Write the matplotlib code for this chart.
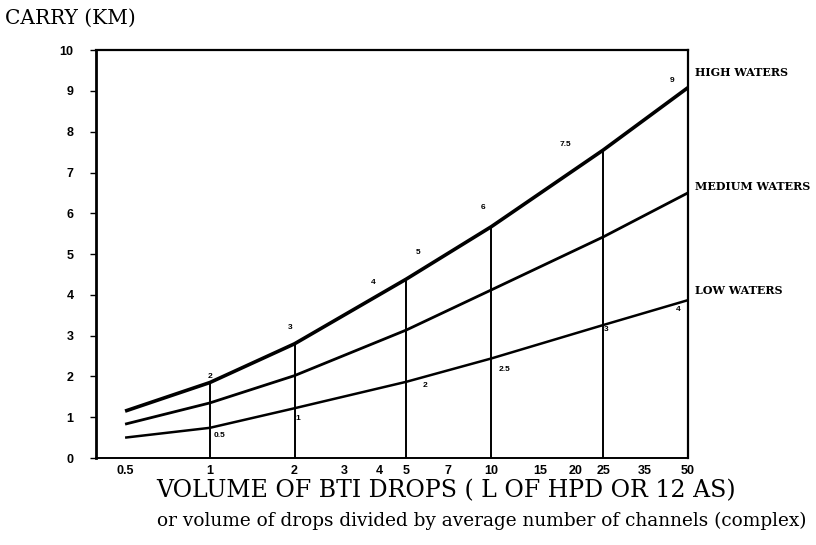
import matplotlib
matplotlib.use("Agg")
import matplotlib.pyplot as plt

# --- DATA ---
VOLUMES = [0.5, 1, 2, 5, 10, 25, 50]
HIGH_WATERS = [1.15, 1.85, 2.8, 4.39, 5.67, 7.55, 9.08]
MEDIUM_WATERS = [0.83, 1.35, 2.02, 3.14, 4.12, 5.42, 6.5]
LOW_WATERS = [0.5, 0.74, 1.22, 1.87, 2.44, 3.26, 3.87]

DROP_LINES = [1, 2, 5, 10, 25]  # vertical guides up to the high-water curve

X_TICKS = [0.5, 1, 2, 3, 4, 5, 7, 10, 15, 20, 25, 35, 50]
X_TICK_LABELS = ["0.5", "1", "2", "3", "4", "5", "7", "10", "15", "20", "25", "35", "50"]
Y_TICKS = list(range(0, 11))

# small figures written along the curves
HIGH_NOTES = [("2", 1.0, 1.99), ("3", 1.93, 3.21), ("4", 3.8, 4.3), ("5", 5.5, 5.05),
              ("6", 9.35, 6.13), ("7.5", 18.3, 7.68), ("9", 43.9, 9.26)]
LOW_NOTES = [("0.5", 1.03, 0.54), ("1", 2.01, 0.98), ("2", 5.72, 1.77),
             ("2.5", 10.6, 2.18), ("3", 25.2, 3.14), ("4", 45.3, 3.65)]

SERIF = "DejaVu Serif"
SANS = "Liberation Sans"

fig = plt.figure(figsize=(8.16, 5.45), dpi=100)
ax = fig.add_axes([0.1176, 0.1596, 0.843 - 0.1176, 0.908 - 0.1596])

ax.plot(VOLUMES, HIGH_WATERS, color="black", lw=2.6, solid_capstyle="butt")
ax.plot(VOLUMES, MEDIUM_WATERS, color="black", lw=2.0, solid_capstyle="butt")
ax.plot(VOLUMES, LOW_WATERS, color="black", lw=1.8, solid_capstyle="butt")

for v in DROP_LINES:
    top = HIGH_WATERS[VOLUMES.index(v)]
    ax.plot([v, v], [0, top], color="black", lw=1.4)

for txt, x, y in HIGH_NOTES:
    ax.text(x, y, txt, fontsize=6, fontweight="bold", family=SANS, ha="center", va="center")
for txt, x, y in LOW_NOTES:
    ax.text(x, y, txt, fontsize=6, fontweight="bold", family=SANS, ha="left", va="center")

ax.set_xscale("log")
ax.set_xlim(0.394, 50)
ax.set_ylim(0, 10)
ax.set_xticks(X_TICKS)
ax.set_xticklabels(X_TICK_LABELS)
ax.minorticks_off()
ax.set_yticks(Y_TICKS)
ax.tick_params(axis="x", length=0, pad=5)
ax.tick_params(axis="y", length=4, width=1, direction="out", pad=12)
for lab in ax.get_xticklabels() + ax.get_yticklabels():
    lab.set_family(SANS)
    lab.set_fontweight("bold")
    lab.set_fontsize(9)

for side in ["left", "top", "right", "bottom"]:
    ax.spines[side].set_color("black")
ax.spines["left"].set_linewidth(2.0)
ax.spines["top"].set_linewidth(1.6)
ax.spines["right"].set_linewidth(1.6)
ax.spines["bottom"].set_linewidth(1.4)

# series names on the right
for name, y in [("HIGH WATERS", 9.45), ("MEDIUM WATERS", 6.65), ("LOW WATERS", 4.1)]:
    ax.text(1.012, y, name, transform=ax.get_yaxis_transform(), fontsize=8,
            fontweight="bold", family=SERIF, ha="left", va="center")

fig.text(0.006, 0.967, "CARRY (KM)", fontsize=14.5, family=SERIF, ha="left", va="center")
fig.text(0.547, 0.099, "VOLUME OF BTI DROPS ( L OF HPD OR 12 AS)", fontsize=17,
         family=SERIF, ha="center", va="center")
fig.text(0.59, 0.044, "or volume of drops divided by average number of channels (complex)",
         fontsize=13.3, family=SERIF, ha="center", va="center")

fig.savefig("out.png", dpi=100, facecolor="white")
